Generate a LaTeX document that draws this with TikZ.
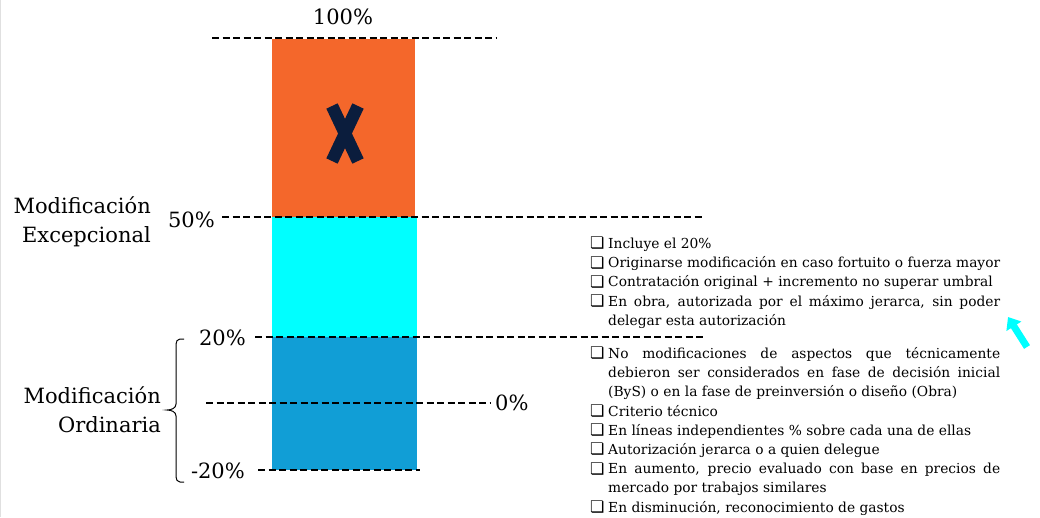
\documentclass[tikz,border=0pt]{standalone}
\usepackage{fontspec}
\setmainfont{DejaVu Serif}
\newfontfamily\symfont{DejaVu Sans}
\usetikzlibrary{arrows.meta}
\definecolor{orangebar}{HTML}{F4672B}
\definecolor{cyanbar}{HTML}{00FFFF}
\definecolor{bluebar}{HTML}{119ED6}
\definecolor{navyx}{HTML}{0B1D3D}
\newlength{\cbw}
\setlength{\cbw}{18pt}
\newcommand{\cbx}{\makebox[\cbw][l]{\raisebox{-0.5pt}{\symfont\fontsize{16}{16}\selectfont\char"274F}}}
\newcommand{\itm}[1]{\par\hangindent=\cbw\hangafter=1\noindent\cbx#1}
\tikzset{
  dline/.style={line width=2.2pt, dash pattern=on 7pt off 3.5pt},
  lbl/.style={font=\fontsize{21}{24}\selectfont, inner sep=0pt},
  listnode/.style={anchor=north west, text width=410pt, align=justify, inner sep=0pt,
    font=\fontsize{13.8}{19.2}\selectfont}
}
\begin{document}
\begin{tikzpicture}[x=1pt,y=-1pt]
\useasboundingbox (0,0) rectangle (1040,517);
\draw[black!12, line width=1pt] (0.5,0) -- (0.5,517);
% bars
\fill[orangebar] (272,39) rectangle (415,217);
\fill[cyanbar] (272,217) rectangle (417,337);
\fill[bluebar] (272,337) rectangle (417,470);
% X mark
\draw[navyx, line width=12.5pt] (332,106) -- (358,161);
\draw[navyx, line width=12.5pt] (358,106) -- (332,161);
% dashed lines
\coordinate (t1) at (212,38); \coordinate (t2) at (497,38);
\coordinate (f1) at (222,217); \coordinate (f2) at (705,217);
\coordinate (w1) at (255,337); \coordinate (w2) at (706,337);
\coordinate (z1) at (206,403); \coordinate (z2) at (490,403);
\coordinate (m1) at (258,470); \coordinate (m2) at (420,470);
\draw[dline] (t1) -- (t2);
\draw[dline] (f1) -- (f2);
\draw[dline] (w1) -- (w2);
\draw[dline] (z1) -- (z2);
\draw[dline] (m1) -- (m2);
% percent labels
\node[lbl] (p100) at (343,17) {100\%};
\node[lbl, anchor=east] (p50) at (215,220) {50\%};
\node[lbl, anchor=east] (p20) at (246,338) {20\%};
\node[lbl, anchor=west] (p0) at (495,403) {0\%};
\node[lbl, anchor=east] (pm20) at (245,471) {-20\%};
% side labels
\node[lbl, anchor=east, align=right, font=\fontsize{21}{29}\selectfont] (exc) at (151,222) {Modificación\\Excepcional};
\node[lbl, anchor=east, align=right, font=\fontsize{21}{29}\selectfont] (ord) at (161,410) {Modificación\\Ordinaria};
% brace
\draw[line width=1pt] (184,339) -- (180,339) to[out=180,in=90] (176,344) -- (176,404)
  to[out=-90,in=0] (167,410) to[out=0,in=90] (176,416) -- (176,477)
  to[out=-90,in=180] (180,482) -- (184,482);
% lists
\node[listnode] (l1) at (590,229) {%
\itm{Incluye el 20\%}
\itm{Originarse modificación en caso fortuito o fuerza mayor}
\itm{Contratación original + incremento no superar umbral}
\itm{En obra, autorizada por el máximo jerarca, sin poder\linebreak delegar esta autorización}\par
};
\node[listnode] (l2) at (590,339) {%
\itm{No modificaciones de aspectos que técnicamente\linebreak debieron ser considerados en fase de decisión inicial\linebreak (ByS) o en la fase de preinversión o diseño (Obra)}
\itm{Criterio técnico}
\itm{En líneas independientes \% sobre cada una de ellas}
\itm{Autorización jerarca o a quien delegue}
\itm{En aumento, precio evaluado con base en precios de\linebreak mercado por trabajos similares}
\itm{En disminución, reconocimiento de gastos}\par
};
% arrow
\coordinate (a1) at (1027,347); \coordinate (a2) at (1008,317);
\draw[cyanbar, line width=7pt, -{Triangle[width=17pt,length=11pt]}] (a1) -- (a2);
\end{tikzpicture}
\end{document}
